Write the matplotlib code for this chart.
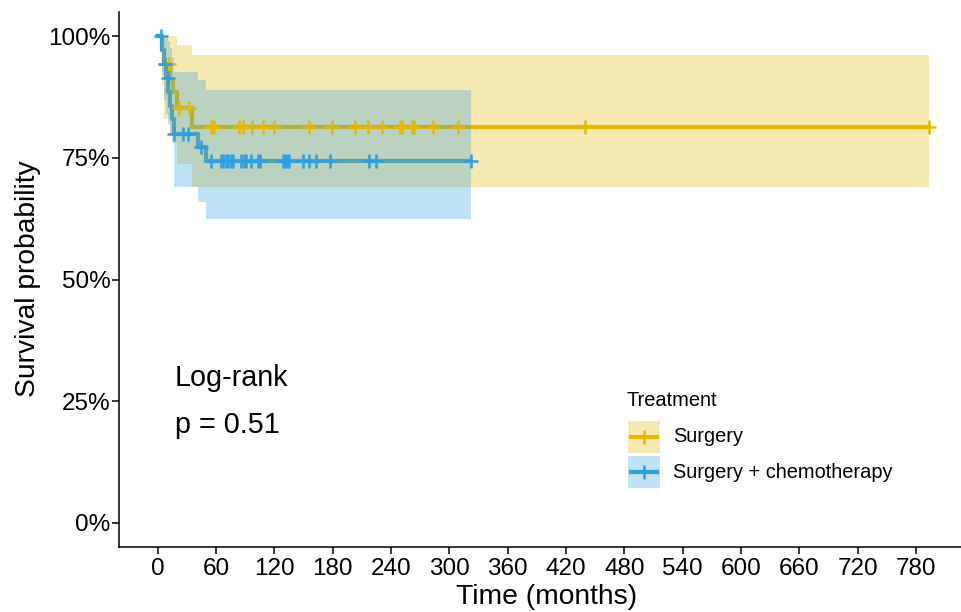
import numpy as np
import matplotlib
matplotlib.use('Agg')
import matplotlib.pyplot as plt
from matplotlib.patches import Rectangle
from matplotlib.lines import Line2D

plt.rcParams['font.family'] = ['Liberation Sans', 'DejaVu Sans']

# Surgery (step starts, survival, confidence band)
surg_time = [0, 4.5, 6.5, 13, 16, 20, 35.5]
surg_surv = [1.0, 0.972, 0.944, 0.913, 0.886, 0.853, 0.814]
surg_lower = [1.0, 0.90, 0.83, 0.80, 0.78, 0.738, 0.69]
surg_upper = [1.0, 1.0, 1.0, 1.0, 1.0, 0.982, 0.962]
surg_end = 793.3
surg_censor = [7.5, 12, 22.3, 32.6, 54.8, 56.8, 58.4, 83.4, 87.5, 97.2, 108.2,
               119.6, 156.2, 179.5, 203.0, 216.2, 230.3, 249.3, 251.4, 261.7,
               263.7, 283.3, 308.8, 439.4, 793.3]

# Surgery + chemotherapy
chemo_time = [0, 5, 7, 9, 11, 13, 15, 16.5, 41.5, 49.5]
chemo_surv = [1.0, 0.971, 0.943, 0.914, 0.886, 0.857, 0.829, 0.80, 0.772, 0.744]
chemo_lower = [1.0, 0.92, 0.87, 0.84, 0.82, 0.80, 0.78, 0.69, 0.659, 0.624]
chemo_upper = [1.0, 1.0, 1.0, 1.0, 0.99, 0.975, 0.955, 0.927, 0.91, 0.889]
chemo_end = 321.9
chemo_censor = [3.5, 8, 10.3, 16.8, 25.7, 30.9, 44.7, 55.0, 65.3, 67.6, 70.2,
                72.8, 75.3, 77.9, 86.2, 88.7, 90.8, 96.1, 103.7, 105.7, 128.9,
                130.9, 133.0, 135.0, 150.0, 155.6, 163.0, 177.2, 217.9, 224.1,
                321.9]

x_ticks = list(range(0, 781, 60))
y_ticks = [0, 0.25, 0.5, 0.75, 1.0]
y_labels = ["0%", "25%", "50%", "75%", "100%"]

C_SURG = '#E7B800'
C_CHEMO = '#2E9FDF'

W, H = 962, 612
fig = plt.figure(figsize=(W / 100, H / 100), dpi=100)
ax = fig.add_axes([119 / W, 1 - 547 / H, (W - 119) / W, (547 - 12) / H])


def draw_group(times, surv, lower, upper, end, censor, color):
    t = np.array(times + [end])
    s = np.array(surv + [surv[-1]])
    lo = np.array(lower + [lower[-1]])
    up = np.array(upper + [upper[-1]])
    ax.step(t, s, where='post', color=color, lw=3, zorder=2)
    ax.fill_between(t, lo, up, step='post', color=color, alpha=0.3,
                    lw=0, zorder=3)
    idx = np.searchsorted(np.array(times), np.array(censor), side='right') - 1
    cy = np.array(surv)[idx]
    ax.plot(censor, cy, linestyle='None', marker='+', markersize=10,
            markeredgewidth=1.8, color=color, zorder=4)


draw_group(surg_time, surg_surv, surg_lower, surg_upper, surg_end,
           surg_censor, C_SURG)
draw_group(chemo_time, chemo_surv, chemo_lower, chemo_upper, chemo_end,
           chemo_censor, C_CHEMO)

ax.set_xlim(-39.7, (W - 158.3) / 0.9715)
ax.set_ylim(-0.05, 1.05)
ax.set_xticks(x_ticks)
ax.set_yticks(y_ticks)
ax.set_yticklabels(y_labels)
for s in ['top', 'right']:
    ax.spines[s].set_visible(False)
for s in ['left', 'bottom']:
    ax.spines[s].set_linewidth(1.1)
ax.tick_params(direction='out', length=5, width=1.1, labelsize=17.5,
               colors='black')
ax.tick_params(axis='y', pad=1)
ax.tick_params(axis='x', pad=3)

ax.text(17.4, 0.298, "Log-rank", fontsize=20.7, va='center', ha='left')
ax.text(17.4, 0.201, "p = 0.51", fontsize=20.7, va='center', ha='left')

fig.text(547 / W, 1 - 597 / H, "Time (months)", fontsize=20.3,
         ha='center', va='center')
fig.text(28 / W, 1 - 279 / H, "Survival probability", fontsize=20.3,
         ha='center', va='center', rotation=90)

# legend
fig.text(627 / W, 1 - 400 / H, "Treatment", fontsize=14.4,
         ha='left', va='center')
for i, (lab, col) in enumerate([("Surgery", C_SURG),
                                ("Surgery + chemotherapy", C_CHEMO)]):
    top = 421 + i * 35
    fig.patches.append(Rectangle((628 / W, 1 - (top + 32) / H), 32 / W, 32 / H,
                                 transform=fig.transFigure, facecolor=col,
                                 alpha=0.3, edgecolor='none'))
    yc = 1 - (top + 16) / H
    fig.lines.append(Line2D([631 / W, 657 / W], [yc, yc], color=col, lw=3,
                            transform=fig.transFigure))
    fig.lines.append(Line2D([644 / W], [yc], color=col, marker='+',
                            markersize=10, markeredgewidth=1.8,
                            linestyle='None', transform=fig.transFigure))
    fig.text(673 / W, yc, lab, fontsize=14.4, ha='left', va='center')

fig.savefig('out.png', dpi=100)
